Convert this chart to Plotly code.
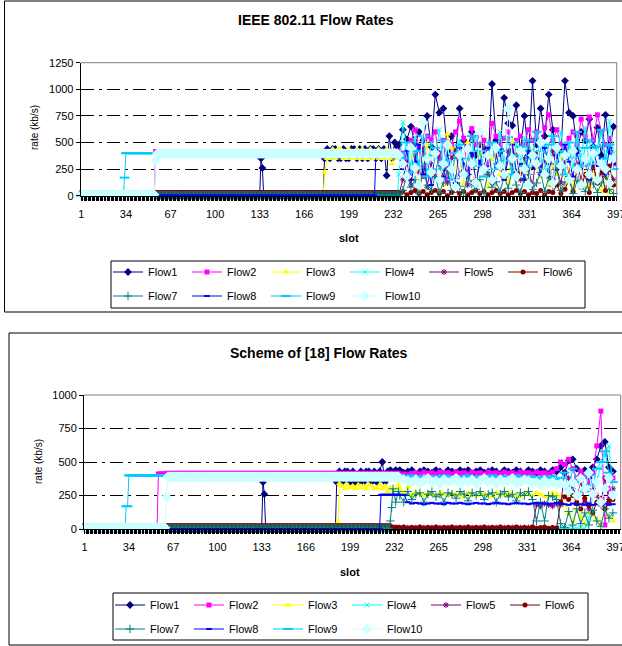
import plotly.graph_objects as go

FLOW_NAMES = ["Flow1", "Flow2", "Flow3", "Flow4", "Flow5",
              "Flow6", "Flow7", "Flow8", "Flow9", "Flow10"]
COLORS = ["#000080", "#FF00FF", "#FFFF00", "#00FFFF", "#800080",
          "#800000", "#008080", "#0000FF", "#00CCFF", "#CCFFFF"]
SYMBOLS = ["diamond", "square", "triangle-up", "x-thin", "asterisk",
           "circle", "cross-thin", "line-ew", "line-ew", "diamond"]
SIZES = [6, 5, 6, 5, 5, 5, 6, 4, 7, 8]

X_TICKS = [1, 34, 67, 100, 133, 166, 199, 232, 265, 298, 331, 364, 397]
Y_TICKS_TOP = [0, 250, 500, 750, 1000, 1250]
Y_TICKS_BOT = [0, 250, 500, 750, 1000]

# slots of the busy right-hand part (read every third slot)
NOISE_SLOTS = [236, 239, 242, 245, 248, 251, 254, 257, 260,
               263, 266, 269, 272, 275, 278, 281, 284, 287,
               290, 293, 296, 299, 302, 305, 308, 311, 314,
               317, 320, 323, 326, 329, 332, 335, 338, 341,
               344, 347, 350, 353, 356, 359, 362, 365, 368,
               371, 374, 377, 380, 383, 386, 389, 392, 395]

# ---------------- IEEE 802.11 (top chart) ----------------
TOP_F1_RUNS = [(1, 133, 0), (134, 134, 350), (135, 135, 260), (136, 180, 0)]
TOP_F2_RUNS = [(1, 55, 25), (56, 235, 415)]
TOP_F3_RUNS = [(1, 180, 0)]
TOP_F4_RUNS = [(1, 235, 5)]
TOP_F5_RUNS = [(1, 235, 10)]
TOP_F6_RUNS = [(1, 235, 30)]
TOP_F7_RUNS = [(1, 235, 5)]
TOP_F8_RUNS = [(1, 218, 0), (219, 235, 380)]
TOP_F9_RUNS = [(1, 32, 0), (33, 33, 170), (34, 235, 400)]
TOP_F10_RUNS = [(1, 55, 10), (56, 56, 330), (57, 235, 395)]

TOP_BAND_SLOTS = [181, 183, 185, 187, 189, 191, 193, 195, 197, 199, 201, 203, 205, 207,
                  209, 211, 213, 215, 217, 219, 221, 223, 225, 227, 229, 231, 233, 235]
TOP_F1_BAND = [350, 440, 350, 440, 440, 350, 350, 440, 350, 350, 440, 440, 350, 440,
               350, 440, 350, 440, 440, 350, 440, 350, 440, 190, 560, 350, 500, 460]
TOP_F3_BAND = [220, 350, 350, 440, 350, 440, 440, 350, 350, 440, 350, 350, 440, 350,
               440, 350, 350, 440, 350, 350, 440, 350, 350, 440, 350, 300, 420, 350]

TOP_F1_NOISE = [480, 620, 530, 650, 480, 600, 520, 750, 460,
                950, 780, 820, 420, 560, 380, 820, 520, 440,
                600, 380, 480, 420, 300, 1050, 520, 440, 920,
                680, 660, 850, 420, 750, 380, 1080, 480, 820,
                560, 950, 620, 380, 420, 1080, 780, 750, 420,
                600, 520, 720, 460, 640, 380, 760, 420, 650]
TOP_F2_NOISE = [420, 400, 300, 520, 620, 450, 180, 560, 520,
                600, 350, 520, 150, 480, 600, 700, 540, 200,
                630, 480, 580, 520, 300, 680, 560, 480, 540,
                600, 420, 520, 560, 480, 620, 520, 600, 450,
                640, 760, 520, 620, 480, 440, 540, 600, 480,
                720, 560, 740, 520, 760, 600, 480, 540, 300]
TOP_F3_NOISE = [380, 300, 150, 420, 250, 60, 350, 480, 200,
                420, 300, 100, 580, 450, 250, 380, 120, 500,
                320, 180, 400, 260, 80, 340, 450, 200, 300,
                120, 520, 380, 220, 300, 150, 420, 260, 180,
                350, 100, 280, 200, 380, 120, 250, 60, 300,
                150, 220, 80, 200, 120, 40, 180, 30, 100]
TOP_F4_NOISE = [200, 690, 420, 300, 550, 250, 400, 180, 500,
                350, 620, 280, 450, 200, 380, 520, 300, 150,
                420, 560, 250, 380, 480, 200, 350, 600, 280,
                420, 180, 500, 330, 550, 250, 420, 580, 300,
                480, 220, 560, 400, 600, 300, 450, 260, 520,
                350, 640, 280, 480, 380, 600, 300, 700, 400]
TOP_F5_NOISE = [10, 150, 320, 100, 380, 220, 450, 80, 300,
                180, 400, 250, 120, 350, 420, 200, 280, 100,
                380, 150, 300, 450, 200, 120, 380, 260, 170,
                420, 300, 380, 150, 350, 240, 100, 400, 280,
                330, 180, 420, 250, 120, 340, 200, 400, 300,
                150, 360, 220, 280, 120, 300, 180, 250, 150]
TOP_F6_NOISE = [25, 40, 10, 30, 50, 20, 40, 10, 30,
                50, 20, 40, 0, 30, 50, 20, 40, 10,
                30, 50, 20, 40, 10, 30, 50, 20, 40,
                10, 30, 50, 20, 40, 10, 30, 20, 50,
                10, 40, 30, 100, 20, 60, 150, 40, 250,
                80, 200, 30, 300, 120, 220, 50, 280, 100]
TOP_F7_NOISE = [10, 50, 200, 80, 150, 20, 250, 100, 60,
                180, 30, 120, 240, 50, 160, 90, 20, 200,
                110, 60, 150, 30, 220, 80, 130, 40, 180,
                70, 250, 100, 30, 160, 200, 60, 120, 220,
                40, 170, 90, 260, 50, 130, 180, 20, 140,
                90, 40, 160, 110, 30, 120, 200, 60, 20]
TOP_F8_NOISE = [380, 250, 420, 150, 320, 480, 200, 350, 100,
                430, 280, 180, 380, 250, 120, 450, 300, 200,
                400, 100, 330, 250, 450, 180, 300, 400, 150,
                350, 480, 220, 300, 150, 420, 260, 350, 200,
                450, 300, 150, 380, 250, 480, 320, 180, 400,
                250, 350, 150, 420, 280, 350, 200, 450, 300]
TOP_F9_NOISE = [400, 350, 500, 220, 420, 300, 560, 180, 380,
                450, 250, 520, 330, 150, 400, 480, 220, 350,
                560, 280, 420, 180, 380, 500, 250, 420, 330,
                550, 200, 380, 460, 280, 520, 350, 600, 420,
                250, 480, 560, 300, 420, 200, 500, 360, 600,
                280, 450, 520, 300, 460, 620, 350, 480, 250]
TOP_F10_NOISE = [380, 300, 180, 450, 260, 100, 690, 350, 220,
                 400, 150, 300, 480, 250, 80, 380, 200, 440,
                 300, 120, 600, 250, 380, 150, 450, 280, 200,
                 820, 350, 180, 420, 250, 100, 380, 300, 500,
                 200, 350, 120, 450, 280, 380, 150, 420, 250,
                 100, 350, 200, 400, 150, 300, 250, 120, 350]

# ---------------- Scheme of [18] (bottom chart) ----------------
BOT_F1_RUNS = [(1, 133, 0), (134, 134, 350), (135, 135, 260), (136, 188, 0)]
BOT_F2_RUNS = [(1, 55, 25), (56, 61, 410), (62, 235, 415)]
BOT_F3_RUNS = [(1, 189, 0), (190, 190, 50), (191, 191, 340)]
BOT_F4_RUNS = [(1, 235, 5)]
BOT_F5_RUNS = [(1, 235, 10)]
BOT_F6_RUNS = [(1, 229, 25), (230, 235, 8)]
BOT_F7_RUNS = [(1, 227, 5)]
BOT_F8_RUNS = [(1, 221, 0), (222, 235, 255)]
BOT_F9_RUNS = [(1, 31, 0), (32, 33, 170), (34, 235, 400)]
BOT_F10_RUNS = [(1, 61, 10), (62, 62, 240), (63, 235, 390)]

BOT_F1_BAND_SLOTS = [189, 191, 193, 195, 197, 199, 201, 203, 205, 207, 209, 211,
                     213, 215, 217, 219, 221, 223, 225, 227, 229, 231, 233, 235]
BOT_F1_BAND = [350, 430, 350, 430, 430, 350, 430, 350, 350, 430, 350, 430,
               430, 350, 430, 350, 430, 500, 350, 430, 440, 400, 440, 430]
BOT_F3_BAND_SLOTS = [193, 195, 197, 199, 201, 203, 205, 207, 209, 211, 213,
                     215, 217, 219, 221, 223, 225, 227, 229, 231, 233, 235]
BOT_F3_BAND = [320, 300, 330, 310, 320, 300, 330, 310, 320, 300, 330,
               320, 300, 310, 330, 300, 320, 280, 310, 260, 300, 330]
BOT_F7_RISE_SLOTS = [228, 229, 230, 231, 233, 235]
BOT_F7_RISE = [5, 60, 160, 300, 200, 280]

BOT_F1_NOISE = [440, 420, 430, 440, 410, 430, 440, 430, 420,
                440, 430, 410, 440, 430, 420, 440, 430, 440,
                410, 430, 440, 420, 430, 440, 430, 410, 440,
                430, 420, 440, 430, 410, 440, 430, 420, 440,
                430, 410, 440, 430, 460, 420, 510, 520, 450,
                400, 440, 380, 460, 520, 620, 650, 460, 430]
BOT_F2_NOISE = [400, 410, 405, 415, 420, 410, 425, 415, 420,
                410, 425, 415, 420, 410, 425, 415, 420, 410,
                425, 415, 420, 410, 425, 415, 420, 410, 425,
                415, 420, 410, 425, 415, 420, 410, 425, 415,
                420, 410, 425, 450, 500, 480, 520, 450, 380,
                430, 400, 350, 420, 620, 880, 30, 300, 380]
BOT_F3_NOISE = [300, 270, 320, 250, 280, 260, 250, 270, 260,
                250, 270, 260, 250, 270, 260, 250, 240, 270,
                260, 250, 270, 260, 250, 240, 270, 260, 250,
                270, 260, 250, 240, 270, 260, 250, 270, 260,
                240, 250, 270, 260, 240, 180, 120, 60, 150,
                90, 40, 120, 100, 70, 30, 150, 90, 60]
BOT_F4_NOISE = [5, 5, 5, 5, 5, 5, 5, 5, 5,
                5, 5, 5, 5, 5, 5, 5, 5, 5,
                5, 5, 5, 5, 5, 5, 5, 5, 5,
                5, 5, 5, 5, 5, 5, 5, 5, 5,
                5, 5, 5, 5, 10, 10, 5, 10, 5,
                10, 5, 80, 250, 380, 450, 550, 620, 300]
BOT_F5_NOISE = [10, 10, 10, 10, 10, 10, 10, 10, 10,
                10, 10, 10, 10, 10, 10, 10, 10, 10,
                10, 10, 10, 10, 10, 10, 10, 10, 10,
                10, 10, 10, 10, 10, 10, 10, 180, 170,
                190, 180, 170, 190, 180, 420, 380, 300, 250,
                350, 200, 150, 300, 250, 180, 380, 220, 300]
BOT_F6_NOISE = [8, 15, 5, 12, 8, 15, 5, 12, 8,
                15, 5, 12, 8, 15, 5, 12, 8, 15,
                5, 12, 8, 15, 5, 12, 8, 15, 5,
                12, 8, 15, 5, 12, 8, 15, 5, 12,
                15, 5, 12, 8, 200, 240, 220, 250, 200,
                150, 230, 180, 120, 200, 230, 150, 200, 220]
BOT_F7_NOISE = [250, 200, 280, 220, 260, 270, 200, 260, 280,
                240, 260, 200, 270, 260, 230, 280, 260, 210,
                270, 250, 280, 220, 260, 270, 200, 260, 280,
                240, 260, 210, 270, 250, 280, 220, 60, 200,
                60, 250, 240, 220, 40, 10, 130, 30, 150,
                40, 120, 30, 140, 60, 20, 150, 80, 120]
BOT_F8_NOISE = [255, 255, 200, 190, 195, 190, 185, 190, 195,
                190, 190, 185, 195, 190, 190, 195, 190, 185,
                190, 195, 190, 190, 185, 190, 195, 190, 190,
                185, 190, 195, 190, 190, 185, 190, 195, 190,
                190, 185, 190, 195, 190, 185, 180, 190, 180,
                185, 180, 190, 180, 185, 180, 190, 180, 185]
BOT_F9_NOISE = [400, 395, 390, 400, 385, 395, 390, 380, 395,
                390, 385, 400, 390, 380, 395, 390, 385, 400,
                390, 380, 395, 390, 385, 400, 390, 380, 395,
                390, 385, 400, 390, 380, 395, 390, 385, 370,
                390, 380, 395, 370, 380, 420, 300, 450, 350,
                380, 280, 400, 330, 450, 500, 580, 420, 350]
BOT_F10_NOISE = [380, 370, 360, 350, 370, 340, 360, 380, 350,
                 360, 340, 370, 350, 360, 380, 340, 360, 350,
                 370, 340, 360, 380, 350, 360, 340, 370, 350,
                 360, 380, 340, 350, 370, 360, 340, 350, 330,
                 360, 340, 350, 330, 340, 330, 280, 350, 250,
                 380, 300, 420, 260, 350, 200, 300, 380, 250]


def build(runs, *point_sets):
    pts = {}
    for a, b, v in runs:
        for s in range(a, b + 1):
            pts[s] = v
    for xs, ys in point_sets:
        assert len(xs) == len(ys)
        for s, v in zip(xs, ys):
            pts[s] = v
    xs = sorted(pts)
    return xs, [pts[s] for s in xs]


TOP_SERIES = [
    build(TOP_F1_RUNS, (TOP_BAND_SLOTS, TOP_F1_BAND), (NOISE_SLOTS, TOP_F1_NOISE)),
    build(TOP_F2_RUNS, (NOISE_SLOTS, TOP_F2_NOISE)),
    build(TOP_F3_RUNS, (TOP_BAND_SLOTS, TOP_F3_BAND), (NOISE_SLOTS, TOP_F3_NOISE)),
    build(TOP_F4_RUNS, (NOISE_SLOTS, TOP_F4_NOISE)),
    build(TOP_F5_RUNS, (NOISE_SLOTS, TOP_F5_NOISE)),
    build(TOP_F6_RUNS, (NOISE_SLOTS, TOP_F6_NOISE)),
    build(TOP_F7_RUNS, (NOISE_SLOTS, TOP_F7_NOISE)),
    build(TOP_F8_RUNS, (NOISE_SLOTS, TOP_F8_NOISE)),
    build(TOP_F9_RUNS, (NOISE_SLOTS, TOP_F9_NOISE)),
    build(TOP_F10_RUNS, (NOISE_SLOTS, TOP_F10_NOISE)),
]
BOT_SERIES = [
    build(BOT_F1_RUNS, (BOT_F1_BAND_SLOTS, BOT_F1_BAND), (NOISE_SLOTS, BOT_F1_NOISE)),
    build(BOT_F2_RUNS, (NOISE_SLOTS, BOT_F2_NOISE)),
    build(BOT_F3_RUNS, (BOT_F3_BAND_SLOTS, BOT_F3_BAND), (NOISE_SLOTS, BOT_F3_NOISE)),
    build(BOT_F4_RUNS, (NOISE_SLOTS, BOT_F4_NOISE)),
    build(BOT_F5_RUNS, (NOISE_SLOTS, BOT_F5_NOISE)),
    build(BOT_F6_RUNS, (NOISE_SLOTS, BOT_F6_NOISE)),
    build(BOT_F7_RUNS, (BOT_F7_RISE_SLOTS, BOT_F7_RISE), (NOISE_SLOTS, BOT_F7_NOISE)),
    build(BOT_F8_RUNS, (NOISE_SLOTS, BOT_F8_NOISE)),
    build(BOT_F9_RUNS, (NOISE_SLOTS, BOT_F9_NOISE)),
    build(BOT_F10_RUNS, (NOISE_SLOTS, BOT_F10_NOISE)),
]

W, H = 622, 646
FONT = "Arial, 'Liberation Sans', sans-serif"


def px(x):
    return x / W


def py(y):
    return 1 - y / H


fig = go.Figure()


def marker_for(i):
    sym = SYMBOLS[i]
    if sym in ("x-thin", "asterisk", "cross-thin", "line-ew"):
        lw = 2 if sym == "line-ew" else 1
        return dict(symbol=sym, size=SIZES[i], color=COLORS[i],
                    line=dict(color=COLORS[i], width=lw))
    return dict(symbol=sym, size=SIZES[i], color=COLORS[i], line=dict(width=0))


# legends: each chart's legend box holds two rows (Flow1-6, Flow7-10)
for series, xa, ya, row_legends in ((TOP_SERIES, "x", "y", ("legend", "legend3")),
                                    (BOT_SERIES, "x2", "y2", ("legend2", "legend4"))):
    for i, (xs, ys) in enumerate(series):
        fig.add_trace(go.Scatter(
            x=xs, y=ys, name=FLOW_NAMES[i], mode="lines+markers",
            line=dict(color=COLORS[i], width=1),
            marker=marker_for(i), xaxis=xa, yaxis=ya,
            legend=row_legends[0] if i < 6 else row_legends[1],
            cliponaxis=False, hoverinfo="skip"))

GRID_DASH = "13px,5px,3px,5px"


def xaxis_cfg(domain, rng, anchor):
    return dict(domain=domain, range=rng, anchor=anchor, tickmode="array",
                tickvals=X_TICKS, ticktext=[str(t) for t in X_TICKS],
                ticks="outside", ticklen=4, tickcolor="black", tickwidth=1,
                showline=True, linecolor="black", linewidth=1, showgrid=False,
                zeroline=False, ticklabelstandoff=4, automargin=False,
                ticklabeloverflow="allow",
                tickfont=dict(family=FONT, size=11, color="black"),
                minor=dict(tickmode="linear", tick0=1, dtick=1, ticks="outside",
                           ticklen=4, tickcolor="black", tickwidth=1, showgrid=False))


def yaxis_cfg(domain, rng, ticks, anchor):
    return dict(domain=domain, range=rng, anchor=anchor, tickmode="array",
                tickvals=ticks, ticks="outside", ticklen=4, tickcolor="black",
                showline=True, linecolor="black", linewidth=1, automargin=False,
                showgrid=True, gridcolor="black", gridwidth=1, griddash=GRID_DASH,
                zeroline=False,
                tickfont=dict(family=FONT, size=11, color="black"))


def legend_row(x, yc):
    return dict(orientation="h", xanchor="left", yanchor="middle",
                x=px(x), y=py(yc), borderwidth=0, bgcolor="rgba(0,0,0,0)",
                font=dict(family=FONT, size=11, color="black"),
                entrywidth=34, entrywidthmode="pixels", itemwidth=30,
                tracegroupgap=0)


fig.update_layout(
    width=W, height=H, margin=dict(l=0, r=0, t=0, b=0, autoexpand=False),
    paper_bgcolor="white", plot_bgcolor="white", showlegend=True,
    xaxis=xaxis_cfg([px(80.7), px(616.7)], [0.5, 397.3], "y"),
    yaxis=yaxis_cfg([py(195.7), py(62.7)], [0, 1250], Y_TICKS_TOP, "x"),
    xaxis2=xaxis_cfg([px(84), px(620.7)], [0.5, 400.8], "y2"),
    yaxis2=yaxis_cfg([py(529), py(395)], [0, 1000], Y_TICKS_BOT, "x2"),
    legend=legend_row(108, 272),
    legend3=legend_row(108, 296),
    legend2=legend_row(110, 605),
    legend4=legend_row(110, 629),
    hovermode=False,
)

shapes = []
for xr, yr in (("x domain", "y domain"), ("x2 domain", "y2 domain")):
    shapes.append(dict(type="line", xref=xr, yref=yr, x0=0, x1=1, y0=1, y1=1,
                       line=dict(color="#808080", width=1), layer="above"))
    shapes.append(dict(type="line", xref=xr, yref=yr, x0=1, x1=1, y0=0, y1=1,
                       line=dict(color="#808080", width=1), layer="above"))
# outer chart frames
shapes.append(dict(type="rect", xref="paper", yref="paper",
                   x0=px(4.5), x1=px(640), y0=py(312), y1=py(1),
                   line=dict(color="black", width=1)))
shapes.append(dict(type="rect", xref="paper", yref="paper",
                   x0=px(9), x1=px(640), y0=py(645), y1=py(333),
                   line=dict(color="black", width=1)))
# legend frames
shapes.append(dict(type="rect", xref="paper", yref="paper",
                   x0=px(111), x1=px(585), y0=py(308), y1=py(261),
                   line=dict(color="black", width=1)))
shapes.append(dict(type="rect", xref="paper", yref="paper",
                   x0=px(113), x1=px(588), y0=py(640), y1=py(593),
                   line=dict(color="black", width=1)))
fig.update_layout(shapes=shapes)

annotations = [
    dict(text="<b>IEEE 802.11 Flow Rates</b>", x=px(316), y=py(20), size=14),
    dict(text="<b>Scheme of [18] Flow Rates</b>", x=px(319), y=py(353), size=14),
    dict(text="<b>slot</b>", x=px(349), y=py(238), size=11),
    dict(text="<b>slot</b>", x=px(350), y=py(572), size=11),
    dict(text="rate (kb/s)", x=px(34), y=py(128), size=10, angle=-90),
    dict(text="rate (kb/s)", x=px(38), y=py(462), size=10, angle=-90),
]
fig.update_layout(annotations=[
    dict(text=a["text"], x=a["x"], y=a["y"], xref="paper", yref="paper",
         xanchor="center", yanchor="middle", showarrow=False,
         textangle=a.get("angle", 0),
         font=dict(family=FONT, size=a["size"], color="black"))
    for a in annotations])

fig.write_html("out.html",
               config={"displayModeBar": False, "staticPlot": True},
               post_script="document.body.style.margin='0';"
                           "document.body.style.overflow='hidden';")
